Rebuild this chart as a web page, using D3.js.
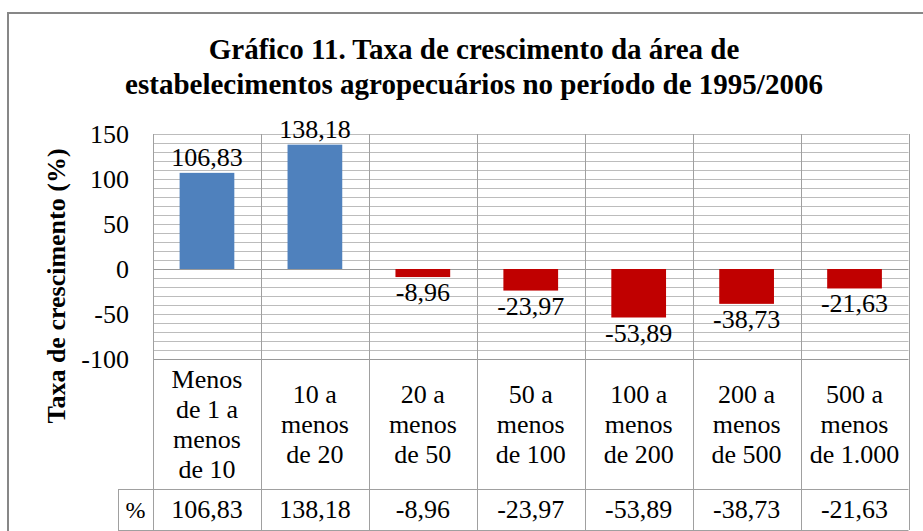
<!DOCTYPE html>
<html>
<head>
<meta charset="utf-8">
<script src="https://cdn.jsdelivr.net/npm/d3@7"></script>
<style>
  html, body { margin: 0; padding: 0; background: #ffffff; }
  svg { display: block; }
</style>
</head>
<body>
<svg id="chart" width="923" height="531"></svg>
<script>
// ---- data ----
const titleLines = [
  "Gráfico 11. Taxa de crescimento da área de",
  "estabelecimentos agropecuários no período de 1995/2006"
];
const yAxisTitle = "Taxa de crescimento (%)";
const categories = [
  "Menos de 1 a menos de 10",
  "10 a menos de 20",
  "20 a menos de 50",
  "50 a menos de 100",
  "100 a menos de 200",
  "200 a menos de 500",
  "500 a menos de 1.000"
];
const categoryLines = [
  ["Menos", "de 1 a", "menos", "de 10"],
  ["10 a", "menos", "de 20"],
  ["20 a", "menos", "de 50"],
  ["50 a", "menos", "de 100"],
  ["100 a", "menos", "de 200"],
  ["200 a", "menos", "de 500"],
  ["500 a", "menos", "de 1.000"]
];
const values = [106.83, 138.18, -8.96, -23.97, -53.89, -38.73, -21.63];
const yTicks = [-100, -50, 0, 50, 100, 150];
const seriesKey = "%";

// ---- layout ----
const FONT = "Liberation Serif";
const svg = d3.select("#chart");
const plotLeft = 153, plotRight = 908.5, plotTop = 134, plotBottom = 359;
const tableTop = 489, tableBottom = 530, keyLeft = 118;

const fmt = d3.formatLocale({ decimal: ",", thousands: ".", grouping: [3], currency: ["", ""], minus: "-" }).format(".2f");

const x = d3.scaleBand().domain(categories).range([plotLeft, plotRight]).padding(0);
const y = d3.scaleLinear().domain([-100, 150]).range([plotBottom, plotTop]);
const barFrac = 0.507;

function serif(sel, size, bold) {
  return sel.attr("font-family", FONT).style("font-family", FONT)
    .attr("font-size", size).attr("fill", "#000")
    .attr("font-weight", bold ? "bold" : "normal");
}

// outer chart border (extends past the picture on right and bottom)
svg.append("path")
  .attr("d", `M8,540 L8,13 L940,13`)
  .attr("fill", "none").attr("stroke", "#878787").attr("stroke-width", 2);

// title
serif(svg.append("g").selectAll("text").data(titleLines).join("text"), 29, true)
  .attr("x", 474).attr("y", (d, i) => 59 + i * 35)
  .attr("text-anchor", "middle")
  .text(d => d);

// horizontal gridlines every 10
const gridVals = d3.range(-100, 151, 10);
svg.append("g").selectAll("line").data(gridVals).join("line")
  .attr("x1", plotLeft).attr("x2", plotRight)
  .attr("y1", d => Math.round(y(d)) + 0.5).attr("y2", d => Math.round(y(d)) + 0.5)
  .attr("stroke", d => (d === 0 || d === -100) ? "#999" : "#bcbcbc").attr("stroke-width", 1);

// vertical category boundary lines (plot + table)
const bounds = categories.map(c => x(c)).concat([plotRight]);
svg.append("g").selectAll("line").data(bounds).join("line")
  .attr("x1", d => Math.round(d) + 0.5).attr("x2", d => Math.round(d) + 0.5)
  .attr("y1", plotTop).attr("y2", tableBottom)
  .attr("stroke", "#a0a0a0").attr("stroke-width", 1);

// table horizontal lines
svg.append("g").selectAll("line").data([tableTop, tableBottom]).join("line")
  .attr("x1", keyLeft).attr("x2", plotRight)
  .attr("y1", d => d + 0.5).attr("y2", d => d + 0.5)
  .attr("stroke", "#a0a0a0").attr("stroke-width", 1);
svg.append("line")
  .attr("x1", keyLeft + 0.5).attr("x2", keyLeft + 0.5)
  .attr("y1", tableTop).attr("y2", tableBottom)
  .attr("stroke", "#a0a0a0").attr("stroke-width", 1);

// bars
const bw = x.bandwidth() * barFrac;
svg.append("g").selectAll("rect").data(values).join("rect")
  .attr("x", (d, i) => x(categories[i]) + (x.bandwidth() - bw) / 2)
  .attr("width", bw)
  .attr("y", d => y(Math.max(0, d)))
  .attr("height", d => Math.abs(y(d) - y(0)))
  .attr("fill", d => d >= 0 ? "#4F81BD" : "#C00000");

// data labels
serif(svg.append("g").selectAll("text").data(values).join("text"), 26, false)
  .attr("x", (d, i) => x(categories[i]) + x.bandwidth() / 2)
  .attr("y", d => d >= 0 ? y(d) - 7 : y(d) + 24)
  .attr("text-anchor", "middle")
  .text(d => fmt(d));

// y axis
const yAxis = d3.axisLeft(y).tickValues(yTicks).tickSize(0).tickPadding(24)
  .tickFormat(d => String(d));
const ag = svg.append("g").attr("transform", `translate(${plotLeft},0)`).call(yAxis);
ag.select(".domain").remove();
ag.attr("font-family", FONT).attr("font-size", 26);
serif(ag.selectAll("text"), 26, false);

// y axis title
serif(svg.append("text"), 26, true)
  .attr("transform", `translate(65,286) rotate(-90)`)
  .attr("text-anchor", "middle")
  .text(yAxisTitle);

// category labels in table
const lineH = 30;
const cg = serif(svg.append("g").selectAll("text").data(categoryLines).join("text"), 26, false)
  .attr("text-anchor", "middle");
cg.each(function(lines, i) {
  const cx = x(categories[i]) + x.bandwidth() / 2;
  const mid = (plotBottom + tableTop) / 2;
  const first = mid - (lines.length - 1) * lineH / 2 + 9;
  d3.select(this).selectAll("tspan").data(lines).join("tspan")
    .attr("x", cx).attr("y", (d, j) => first + j * lineH).text(d => d);
});

// value row
serif(svg.append("text"), 24, false)
  .attr("x", (keyLeft + plotLeft) / 2).attr("y", 518)
  .attr("text-anchor", "middle").text(seriesKey);
serif(svg.append("g").selectAll("text").data(values).join("text"), 26, false)
  .attr("x", (d, i) => x(categories[i]) + x.bandwidth() / 2)
  .attr("y", 518)
  .attr("text-anchor", "middle")
  .text(d => fmt(d));
</script>
</body>
</html>
